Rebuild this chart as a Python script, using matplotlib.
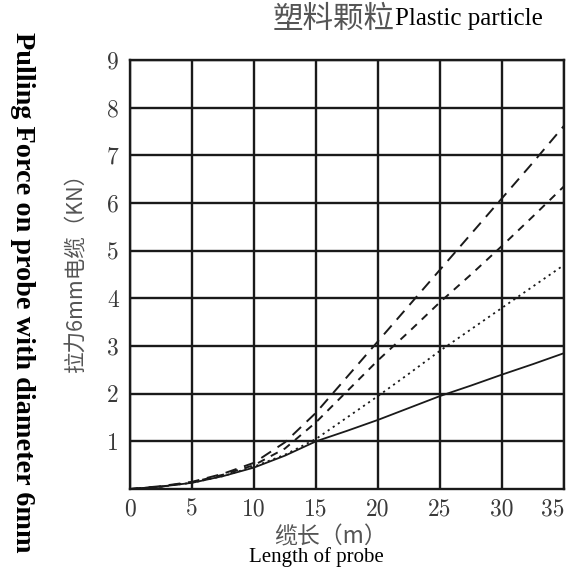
import matplotlib
matplotlib.use("Agg")
import matplotlib.pyplot as plt

# Cable length (m) and pulling force (kN) for four test cases
length_m = [0, 2.5, 5, 7.5, 10, 12.5, 15, 17.5, 20, 22.5, 25, 27.5, 30, 32.5, 35]
force_solid = [0, 0.05, 0.13, 0.27, 0.45, 0.70, 1.00, 1.22, 1.45, 1.70, 1.95, 2.17, 2.40, 2.62, 2.85]
force_dotted = [0, 0.05, 0.13, 0.27, 0.47, 0.72, 1.05, 1.50, 1.95, 2.42, 2.90, 3.35, 3.80, 4.25, 4.70]
force_dashed = [0, 0.05, 0.14, 0.30, 0.50, 0.85, 1.40, 2.05, 2.70, 3.30, 3.92, 4.50, 5.10, 5.72, 6.35]
force_longdash = [0, 0.06, 0.15, 0.32, 0.55, 0.98, 1.60, 2.35, 3.10, 3.85, 4.60, 5.35, 6.10, 6.85, 7.62]

x_ticks = [0, 5, 10, 15, 20, 25, 30, 35]
y_ticks = [1, 2, 3, 4, 5, 6, 7, 8, 9]

cjk = ["Noto Sans CJK SC", "DejaVu Sans"]
serif = ["Liberation Serif", "DejaVu Serif"]

W, H = 571, 579
fig = plt.figure(figsize=(W / 100, H / 100), dpi=100)
ax = fig.add_axes([130 / W, 1 - 489 / H, (564 - 130) / W, (489 - 60) / H])

line_color = "#1a1a1a"
ax.plot(length_m, force_solid, color=line_color, lw=1.3, ls="-")
ax.plot(length_m, force_dotted, color=line_color, lw=1.3, ls=(0, (1.2, 2.2)))
ax.plot(length_m, force_dashed, color=line_color, lw=1.4, ls=(0, (4, 3.5)))
ax.plot(length_m, force_longdash, color=line_color, lw=1.4, ls=(0, (6, 4)))

ax.set_xlim(0, 35)
ax.set_ylim(0, 9)
ax.set_xticks(x_ticks)
ax.set_yticks(y_ticks)
ax.grid(True, color="#1a1a1a", lw=1.7)
ax.set_axisbelow(True)
for s in ax.spines.values():
    s.set_color("#1a1a1a")
    s.set_linewidth(1.7)
ax.tick_params(axis="x", length=0, pad=7, labelsize=17, labelcolor="#3a3a3a")
ax.tick_params(axis="y", length=0, pad=8, labelsize=17, labelcolor="#3a3a3a")
for lab in ax.get_xticklabels() + ax.get_yticklabels():
    lab.set_fontfamily("cmr10")
# keep the last x label inside the figure
ax.get_xticklabels()[-1].set_horizontalalignment("right")

# Axis titles
fig.text(330 / W, 1 - 537 / H, "缆长（m）", family=cjk,
         fontsize=16.5, color="#555555", ha="center", va="center")
fig.text(316 / W, 1 - 557 / H, "Length of probe", family=serif,
         fontsize=15, color="black", ha="center", va="center")
fig.text(76 / W, 1 - 268 / H, "拉力6mm电缆（KN）", family=cjk, fontsize=15.5,
         color="#555555", rotation=90, ha="center", va="center")
fig.text(22 / W, 1 - 292 / H, "Pulling Force on probe with diameter 6mm",
         family=serif, fontweight="bold", fontsize=20.3, color="black",
         rotation=-90, ha="center", va="center")

# Title in two languages
t1 = fig.text(273 / W, 1 - 19 / H, "塑料颗粒", family=cjk, fontsize=22,
              color="#555555", ha="left", va="center")
fig.canvas.draw()
bb = t1.get_window_extent()
fig.text(bb.x1 / fig.bbox.width, 1 - 19 / H, "Plastic particle", family=serif,
         fontsize=18, color="black", ha="left", va="center")

fig.savefig("out.png", dpi=100)
